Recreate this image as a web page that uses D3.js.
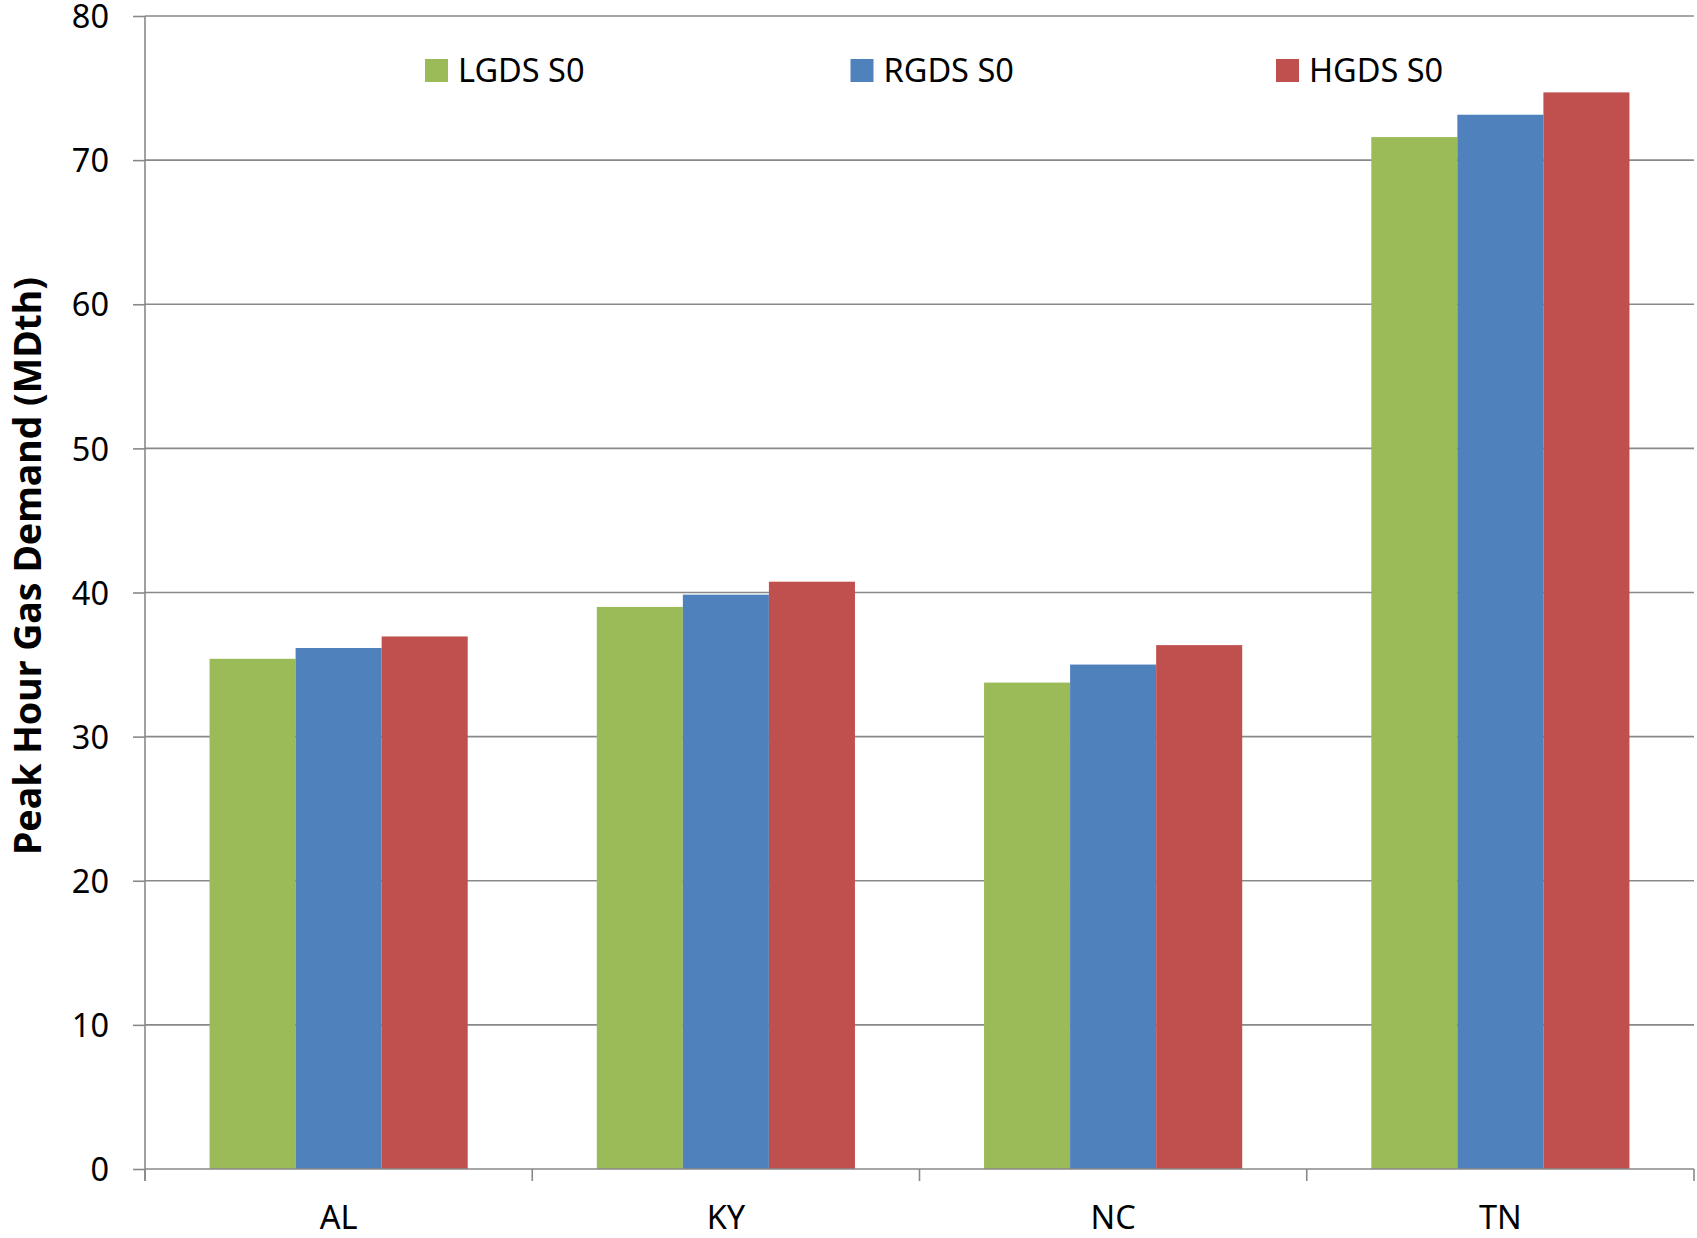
<!DOCTYPE html>
<html>
<head>
<meta charset="utf-8">
<script src="https://cdn.jsdelivr.net/npm/d3@7/dist/d3.min.js"></script>
<style>
  html, body { margin: 0; padding: 0; background: #ffffff; }
  svg { display: block; }
  text { font-family: "Noto Sans", "Open Sans", sans-serif; fill: #000; }
</style>
</head>
<body>
<svg id="chart" width="1697" height="1238"></svg>
<script>
// ---- data ----
const categories = ["AL", "KY", "NC", "TN"];
const seriesNames = ["LGDS S0", "RGDS S0", "HGDS S0"];
const lgdsValues = [35.4, 39.0, 33.75, 71.6];
const rgdsValues = [36.15, 39.85, 35.0, 73.15];
const hgdsValues = [36.95, 40.75, 36.35, 74.7];
const yTickValues = [0, 10, 20, 30, 40, 50, 60, 70, 80];
const yTitle = "Peak Hour Gas Demand (MDth)";
const seriesColors = ["#9BBB59", "#4F81BD", "#C0504D"];

const seriesValues = [lgdsValues, rgdsValues, hgdsValues];

// ---- layout ----
const svg = d3.select("#chart");
const plotLeft = 145, plotRight = 1694, plotTop = 16, plotBottom = 1169;
const axisColor = "#898989";
const labelSize = "32.5px";

const x0 = d3.scaleBand().domain(categories).range([plotLeft, plotRight]).paddingInner(0).paddingOuter(0);
const x1 = d3.scaleBand().domain(seriesNames).range([0, x0.bandwidth()]).paddingInner(0).paddingOuter(0.75);
const y = d3.scaleLinear().domain([0, 80]).range([plotBottom, plotTop]);

// gridlines
svg.append("g")
  .selectAll("line")
  .data(yTickValues.filter(v => v > 0))
  .join("line")
  .attr("x1", plotLeft).attr("x2", plotRight)
  .attr("y1", d => y(d)).attr("y2", d => y(d))
  .attr("stroke", axisColor).attr("stroke-width", 1.6);

// bars
const rows = categories.map((c, i) => ({ cat: c, vals: seriesNames.map((s, j) => ({ s, j, v: seriesValues[j][i] })) }));
svg.append("g")
  .selectAll("g")
  .data(rows)
  .join("g")
  .attr("transform", d => `translate(${x0(d.cat)},0)`)
  .selectAll("rect")
  .data(d => d.vals)
  .join("rect")
  .attr("x", d => x1(d.s))
  .attr("width", x1.bandwidth())
  .attr("y", d => y(d.v))
  .attr("height", d => y(0) - y(d.v))
  .attr("fill", d => seriesColors[d.j]);

// y axis
const yAxis = svg.append("g")
  .attr("transform", `translate(${plotLeft},0)`)
  .call(d3.axisLeft(y).tickValues(yTickValues).tickSize(12).tickPadding(24).tickFormat(d3.format("d")));
yAxis.select(".domain").remove();
yAxis.selectAll(".tick line").attr("stroke", axisColor).attr("stroke-width", 1.6);
yAxis.selectAll(".tick text").style("font-size", labelSize).attr("dy", "0.36em");
yAxis.append("line")
  .attr("x1", 0).attr("x2", 0).attr("y1", plotTop).attr("y2", plotBottom + 12)
  .attr("stroke", axisColor).attr("stroke-width", 1.6);

// x axis
const xAxis = svg.append("g")
  .attr("transform", `translate(0,${plotBottom})`)
  .call(d3.axisBottom(x0).tickSize(0).tickPadding(37));
xAxis.select(".domain").remove();
xAxis.selectAll(".tick text").style("font-size", labelSize);
xAxis.append("line")
  .attr("x1", plotLeft).attr("x2", plotRight).attr("y1", 0).attr("y2", 0)
  .attr("stroke", axisColor).attr("stroke-width", 1.6);
const boundaries = categories.map(c => x0(c)).concat([x0(categories[categories.length - 1]) + x0.step()]);
xAxis.append("g")
  .selectAll("line")
  .data(boundaries)
  .join("line")
  .attr("x1", d => d).attr("x2", d => d)
  .attr("y1", 0).attr("y2", 12)
  .attr("stroke", axisColor).attr("stroke-width", 1.6);

// y title
svg.append("text")
  .attr("transform", "translate(40.5,566) rotate(-90)")
  .attr("text-anchor", "middle")
  .style("font-size", "37.5px")
  .style("font-weight", "bold")
  .text(yTitle);

// legend
const legend = svg.append("g")
  .selectAll("g")
  .data(seriesNames)
  .join("g")
  .attr("transform", (d, i) => `translate(${425 + i * 425.5},59)`);
legend.append("rect")
  .attr("width", 23).attr("height", 23)
  .attr("fill", (d, i) => seriesColors[i]);
legend.append("text")
  .attr("x", 33).attr("y", 23)
  .style("font-size", labelSize)
  .text(d => d);
</script>
</body>
</html>
